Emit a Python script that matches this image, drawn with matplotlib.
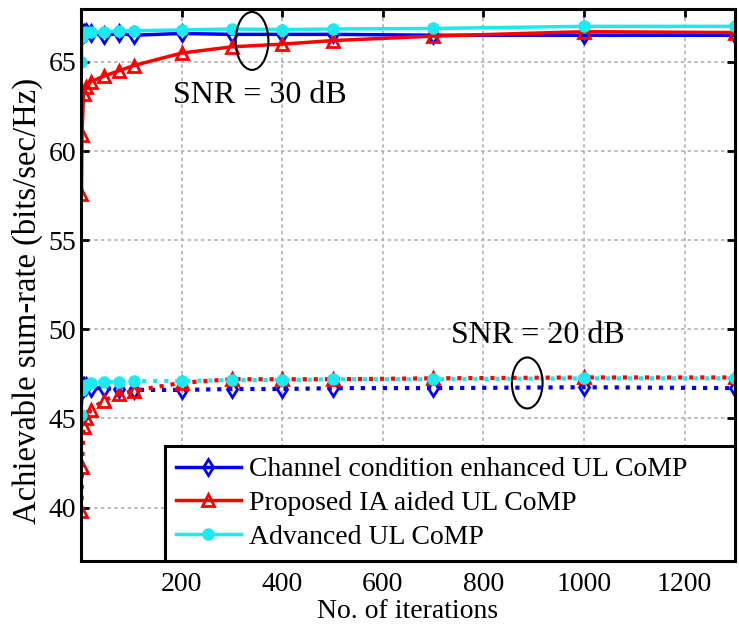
import matplotlib
matplotlib.use('Agg')
import matplotlib.pyplot as plt
from matplotlib.patches import Ellipse

# iteration points where the markers sit
iters = [1, 2, 5, 10, 20, 45, 75, 105, 200, 300, 400, 500, 700, 1000, 1300]

# SNR = 30 dB
cc_30 = [66.4, 66.7, 66.6, 66.7, 66.6, 66.5, 66.6, 66.5, 66.6, 66.55, 66.55, 66.55, 66.5, 66.5, 66.5]
ia_30 = [57.6, 60.9, 63.2, 63.6, 63.9, 64.2, 64.5, 64.8, 65.5, 65.85, 66.0, 66.2, 66.45, 66.7, 66.65]
adv_30 = [65.0, 66.4, 66.6, 66.7, 66.7, 66.7, 66.75, 66.75, 66.8, 66.85, 66.82, 66.85, 66.88, 67.0, 67.0]

# SNR = 20 dB
cc_20 = [46.5, 46.9, 46.8, 46.8, 46.7, 46.7, 46.65, 46.6, 46.6, 46.65, 46.65, 46.7, 46.7, 46.75, 46.7]
ia_20 = [39.8, 42.3, 44.5, 45.0, 45.5, 46.0, 46.35, 46.55, 47.0, 47.2, 47.2, 47.2, 47.25, 47.3, 47.3]
adv_20 = [45.2, 46.6, 46.8, 46.9, 47.0, 47.05, 47.05, 47.1, 47.1, 47.15, 47.15, 47.2, 47.2, 47.25, 47.25]

labels = ['Channel condition enhanced UL CoMP', 'Proposed IA aided UL CoMP', 'Advanced UL CoMP']

plt.rcParams['font.family'] = ['Liberation Serif', 'DejaVu Serif']

fig = plt.figure(figsize=(7.39, 6.30), dpi=100)
ax = fig.add_axes([0.1096, 0.1095, 0.885, 0.877])

blue, red, cyan = '#0000ff', '#ff0000', '#1ee8f0'
lw = 2.5
# 30 dB, solid lines
ax.plot(iters, cc_30, '-', color=blue, lw=lw, marker='d', ms=8, mfc='none', mew=2, label=labels[0])
ax.plot(iters, ia_30, '-', color=red, lw=lw, marker='^', ms=8, mfc='none', mew=2, label=labels[1])
ax.plot(iters, adv_30, '-', color=cyan, lw=lw, marker='o', ms=8, mfc=cyan, mec=cyan, label=labels[2])
# 20 dB, dotted lines
ax.plot(iters, cc_20, ':', color=blue, lw=lw + 0.5, marker='d', ms=8, mfc='none', mew=2)
ax.plot(iters, ia_20, ':', color=red, lw=lw + 0.5, marker='^', ms=8, mfc='none', mew=2)
ax.plot(iters, adv_20, ':', color=cyan, lw=lw + 0.5, marker='o', ms=8, mfc=cyan, mec=cyan)

# annotations
ax.add_patch(Ellipse((340, 66.18), 65, 3.25, fill=False, ec='black', lw=1.5, zorder=5))
ax.add_patch(Ellipse((887, 46.99), 61, 2.86, fill=False, ec='black', lw=1.5, zorder=5))
ax.text(182, 63.1, 'SNR = 30 dB', fontsize=23, va='center', ha='left')
ax.text(736, 49.65, 'SNR = 20 dB', fontsize=23, va='center', ha='left')

ax.set_xlim(0, 1300)
ax.set_ylim(37, 68)
ax.set_xticks([200, 400, 600, 800, 1000, 1200])
ax.set_yticks([40, 45, 50, 55, 60, 65])
ax.grid(True, color='#b0b0b0', linestyle=(0, (2, 2)), lw=1.2)
ax.tick_params(direction='in', length=6, width=2, top=True, right=True, labelsize=20)
ax.tick_params(axis='x', pad=8)
for s in ax.spines.values():
    s.set_linewidth(2.2)

ax.set_xlabel('No. of iterations', fontsize=20, labelpad=1)
ax.set_ylabel('Achievable sum-rate (bits/sec/Hz)', fontsize=23.5)
ax.yaxis.set_label_coords(-0.058, 0.47)

leg = ax.legend(loc='lower left', bbox_to_anchor=(0.128, 0, 0.872, 0.2), mode='expand',
                borderaxespad=0, fontsize=20, fancybox=False, framealpha=1, edgecolor='black',
                handlelength=2.35, labelspacing=0.3, borderpad=0.4, handletextpad=0.3)
leg.get_frame().set_linewidth(2.2)

plt.savefig('out.png', dpi=100)
